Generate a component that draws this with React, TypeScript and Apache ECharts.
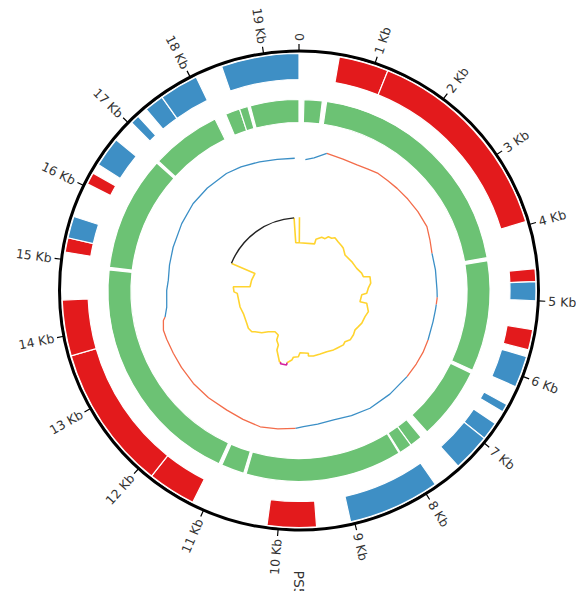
import React, { useEffect, useRef } from "react";
import * as echarts from "echarts";

// ---------- data ----------
const GENOME_KB = 19.46;
const TICK_KB = [0, 1, 2, 3, 4, 5, 6, 7, 8, 9, 10, 11, 12, 13, 14, 15, 16, 17, 18, 19];
const TICK_LABELS = ["0", "1 Kb", "2 Kb", "3 Kb", "4 Kb", "5 Kb", "6 Kb", "7 Kb", "8 Kb", "9 Kb",
  "10 Kb", "11 Kb", "12 Kb", "13 Kb", "14 Kb", "15 Kb", "16 Kb", "17 Kb", "18 Kb", "19 Kb"];
const RECORD_NAME = "PS5";

// outer ring: genes (start kb, end kb, strand)
const FEATURE_START = [0.53, 1.19, 4.58, 4.75, 5.38, 5.74, 6.42, 6.71, 6.95, 7.83, 9.50, 11.17, 11.81, 13.73, 15.10, 15.29, 16.04, 16.33, 17.03, 17.29, 17.55, 18.43];
const FEATURE_END = [1.19, 3.95, 4.75, 5.00, 5.65, 6.16, 6.53, 6.95, 7.45, 9.05, 10.15, 11.81, 13.73, 14.47, 15.29, 15.58, 16.20, 16.73, 17.15, 17.55, 18.07, 19.46];
const FEATURE_STRAND = ["+", "+", "+", "-", "+", "-", "-", "-", "-", "-", "+", "+", "+", "+", "+", "-", "+", "-", "-", "-", "-", "-"];

// second ring: regions
const REGION_START = [0.08, 0.45, 4.38, 6.25, 7.58, 7.79, 8.02, 10.64, 11.07, 14.97, 16.90, 18.24, 18.48, 18.66];
const REGION_END = [0.38, 4.33, 6.20, 7.45, 7.79, 8.00, 10.60, 11.02, 14.93, 16.86, 18.05, 18.48, 18.62, 19.46];

// GC content profile (track units)
const GC_POS = [0.15, 0.35, 0.62, 1.0, 1.34, 1.6, 1.84, 2.1, 2.37, 2.7, 3.05, 3.43, 3.72, 4.02, 4.4, 4.85, 5.02, 5.18, 5.3, 5.57, 6.0, 6.3, 6.6, 6.95, 7.5, 8.05, 8.5, 8.92, 9.3, 9.63, 9.81, 10.2, 10.59, 11.0, 11.41, 11.9, 12.36, 12.8, 13.16, 13.5, 13.71, 13.92, 13.99, 14.21, 14.6, 14.84, 15.2, 15.62, 16.2, 16.72, 17.2, 17.74, 18.1, 18.54, 18.95, 19.36];
const GC_VAL = [131.0, 133.5, 140.0, 138.6, 138.3, 139.6, 141.3, 141.2, 141.6, 142.1, 142.7, 143.0, 140.4, 138.1, 138.0, 138.0, 138.4, 138.0, 137.8, 137.6, 138.2, 138.6, 138.4, 138.2, 137.8, 137.5, 135.6, 134.0, 135.0, 136.3, 137.9, 140.0, 141.7, 140.5, 139.7, 140.4, 140.7, 140.5, 140.5, 141.0, 141.3, 138.9, 136.5, 133.3, 132.3, 131.1, 132.0, 133.1, 135.0, 137.0, 137.5, 137.7, 136.5, 134.6, 133.0, 132.3];
const GC_HIGH_START = [0.62, 5.02, 6.0, 9.81];
const GC_HIGH_END = [4.02, 5.18, 6.95, 13.99];

// GC skew trace (track units)
const SKEW_POS = [0.02, 0.02, 1.0, 0.99, 1.25, 1.44, 1.55, 1.73, 1.85, 2.09, 2.37, 2.51, 2.83, 3.31, 3.73, 4.03, 4.21, 4.27, 4.55, 4.76, 4.99, 5.08, 5.43, 5.44, 5.78, 6.03, 6.35, 6.56, 6.76, 6.98, 7.24, 7.46, 7.61, 7.93, 8.10, 8.41, 8.73, 9.06, 9.29, 9.27, 9.68, 9.76, 9.99, 10.05, 10.24];
const SKEW_VAL = [73.3, 47.8, 49.2, 54.0, 57.8, 58.0, 61.3, 61.6, 63.9, 62.5, 61.7, 61.2, 58.1, 60.1, 61.8, 65.0, 65.8, 72.3, 72.1, 69.3, 67.8, 62.9, 62.0, 68.9, 72.5, 71.0, 70.8, 69.5, 68.5, 70.2, 71.1, 68.8, 70.2, 69.0, 68.7, 67.2, 66.9, 67.0, 66.2, 63.5, 62.2, 66.2, 67.0, 69.9, 73.2];
const SKEW2_POS = [10.5, 10.56, 10.83, 10.85, 11.04, 11.08, 11.36, 11.71, 11.97, 12.26, 12.37, 12.61, 12.85, 13.38, 13.75, 14.45, 14.53, 14.77, 14.83, 15.26, 15.74, 15.78];
const SKEW2_VAL = [73.9, 73.9, 63.5, 58.3, 54.3, 49.1, 47.7, 51.4, 56.3, 60.3, 62.7, 63.2, 61.7, 60.2, 61.2, 61.8, 65.0, 65.8, 49.1, 48.5, 47.2, 72.6];
const SKEW_TAIL_POS = [19.25, 19.25, 19.46];
const SKEW_TAIL_VAL = [72.8, 47.8, 47.8];
const SKEW_PEAK_POS = [10.24, 10.24, 10.5, 10.5];
const SKEW_PEAK_VAL = [73.2, 75.5, 75.5, 73.9];
const SKEW_FLAT_START = [15.78];
const SKEW_FLAT_END = [19.25];
const SKEW_FLAT_VAL = [72.8];

// ---------- styling ----------
const R_MAX = 239.5;
const FEATURE_R = [211, 237];
const REGION_R = [168, 191];
const LABEL_R = 249.5;
const NAME_R = 280;
const RED = "#e31a1c";
const BLUE = "#3e8fc5";
const GREEN = "#6cc274";
const GC_HIGH = "#f36c4a";
const GC_LOW = "#3b8fc6";
const YELLOW = "#ffd42f";

function sectorItem(api: any, s: number, e: number, r0: number, r1: number, color: string) {
  const c = api.coord([0, s]);
  const p1 = api.coord([r1, s]);
  const p2 = api.coord([r1, e]);
  const q = api.coord([r0, s]);
  let a1 = Math.atan2(p1[1] - c[1], p1[0] - c[0]);
  let a2 = Math.atan2(p2[1] - c[1], p2[0] - c[0]);
  if (a2 <= a1) a2 += Math.PI * 2;
  const rr1 = Math.hypot(p1[0] - c[0], p1[1] - c[1]);
  const rr0 = Math.hypot(q[0] - c[0], q[1] - c[1]);
  return {
    type: "sector",
    shape: { cx: c[0], cy: c[1], r0: rr0, r: rr1, startAngle: a1, endAngle: a2, clockwise: true },
    style: { fill: color, stroke: "#ffffff", lineWidth: 1.2 },
  };
}

function radialText(api: any, r: number, v: number, text: string, size: number) {
  const c = api.coord([0, v]);
  const p = api.coord([r, v]);
  const ang = Math.atan2(p[1] - c[1], p[0] - c[0]);
  const right = v <= GENOME_KB / 2 + 1e-6;
  return {
    type: "text",
    x: p[0],
    y: p[1],
    rotation: right ? -ang : -ang - Math.PI,
    style: {
      text,
      fill: "#333333",
      fontSize: size,
      fontFamily: "DejaVu Sans",
      align: right ? "left" : "right",
      verticalAlign: "middle",
    },
  };
}

function buildGcRuns() {
  const isHigh = (x: number) => GC_HIGH_START.some((s, i) => x >= s && x <= GC_HIGH_END[i]);
  const runs: { high: boolean; pts: number[][] }[] = [];
  let cur: { high: boolean; pts: number[][] } | null = null;
  for (let i = 0; i < GC_POS.length - 1; i++) {
    const high = isHigh((GC_POS[i] + GC_POS[i + 1]) / 2);
    if (!cur || cur.high !== high) {
      cur = { high, pts: [[GC_VAL[i], GC_POS[i]]] };
      runs.push(cur);
    }
    cur.pts.push([GC_VAL[i + 1], GC_POS[i + 1]]);
  }
  return runs;
}

const zip = (pos: number[], val: number[]) => pos.map((p, i) => [val[i], p]);

export default function App() {
  const ref = useRef<HTMLDivElement>(null);
  useEffect(() => {
    if (!ref.current) return;
    const chart = echarts.init(ref.current, null, { renderer: "svg" });
    const lineBase = {
      type: "line",
      coordinateSystem: "polar",
      showSymbol: false,
      symbol: "none",
      silent: true,
      animation: false,
    };
    const gcSeries = buildGcRuns().map((run) => ({
      ...lineBase,
      data: run.pts,
      lineStyle: { color: run.high ? GC_HIGH : GC_LOW, width: 1.3 },
      z: 3,
    }));
    const option: any = {
      animation: false,
      backgroundColor: "#ffffff",
      polar: { center: [299, 290.5], radius: R_MAX },
      angleAxis: {
        type: "value",
        min: 0,
        max: GENOME_KB,
        interval: 1,
        startAngle: 90,
        clockwise: true,
        axisLine: { show: true, lineStyle: { color: "#000000", width: 3 } },
        axisTick: { show: true, length: 7, lineStyle: { color: "#000000", width: 1.2 } },
        axisLabel: { show: false },
        splitLine: { show: false },
      },
      radiusAxis: {
        type: "value",
        min: 0,
        max: R_MAX,
        axisLine: { show: false },
        axisTick: { show: false },
        axisLabel: { show: false },
        splitLine: { show: false },
      },
      series: [
        {
          type: "custom",
          coordinateSystem: "polar",
          silent: true,
          data: FEATURE_START.map((s, i) => [s, FEATURE_END[i]]),
          renderItem: (params: any, api: any) =>
            sectorItem(api, api.value(0), api.value(1), FEATURE_R[0], FEATURE_R[1],
              FEATURE_STRAND[params.dataIndex] === "+" ? RED : BLUE),
          z: 2,
        },
        {
          type: "custom",
          coordinateSystem: "polar",
          silent: true,
          data: REGION_START.map((s, i) => [s, REGION_END[i]]),
          renderItem: (params: any, api: any) =>
            sectorItem(api, api.value(0), api.value(1), REGION_R[0], REGION_R[1], GREEN),
          z: 2,
        },
        ...gcSeries,
        { ...lineBase, data: zip(SKEW_POS, SKEW_VAL), lineStyle: { color: YELLOW, width: 1.6 }, z: 3 },
        { ...lineBase, data: zip(SKEW2_POS, SKEW2_VAL), lineStyle: { color: YELLOW, width: 1.6 }, z: 3 },
        { ...lineBase, data: zip(SKEW_TAIL_POS, SKEW_TAIL_VAL), lineStyle: { color: YELLOW, width: 1.6 }, z: 3 },
        { ...lineBase, data: zip(SKEW_PEAK_POS, SKEW_PEAK_VAL), lineStyle: { color: "#d4209c", width: 1.6 }, z: 4 },
        {
          type: "custom",
          coordinateSystem: "polar",
          silent: true,
          data: SKEW_FLAT_START.map((s, i) => [s, SKEW_FLAT_END[i], SKEW_FLAT_VAL[i]]),
          renderItem: (params: any, api: any) => {
            const s = api.value(0), e = api.value(1), r = api.value(2);
            const c = api.coord([0, s]);
            const p1 = api.coord([r, s]);
            const p2 = api.coord([r, e]);
            let a1 = Math.atan2(p1[1] - c[1], p1[0] - c[0]);
            let a2 = Math.atan2(p2[1] - c[1], p2[0] - c[0]);
            if (a2 <= a1) a2 += Math.PI * 2;
            return {
              type: "arc",
              shape: { cx: c[0], cy: c[1], r: Math.hypot(p1[0] - c[0], p1[1] - c[1]), startAngle: a1, endAngle: a2, clockwise: true },
              style: { stroke: "#222222", fill: null, lineWidth: 1.4 },
            };
          },
          z: 4,
        },
        {
          type: "custom",
          coordinateSystem: "polar",
          silent: true,
          data: TICK_KB.map((v) => [LABEL_R, v]),
          renderItem: (params: any, api: any) =>
            radialText(api, api.value(0), api.value(1), TICK_LABELS[params.dataIndex], 12.5),
          z: 5,
        },
        {
          type: "custom",
          coordinateSystem: "polar",
          silent: true,
          data: [[NAME_R, GENOME_KB / 2]],
          renderItem: (params: any, api: any) =>
            radialText(api, api.value(0), api.value(1), RECORD_NAME, 14),
          z: 5,
        },
      ],
    };
    chart.setOption(option);
    return () => chart.dispose();
  }, []);
  return <div ref={ref} style={{ position: "fixed", left: 0, top: 0, width: 576, height: 591 }} />;
}
